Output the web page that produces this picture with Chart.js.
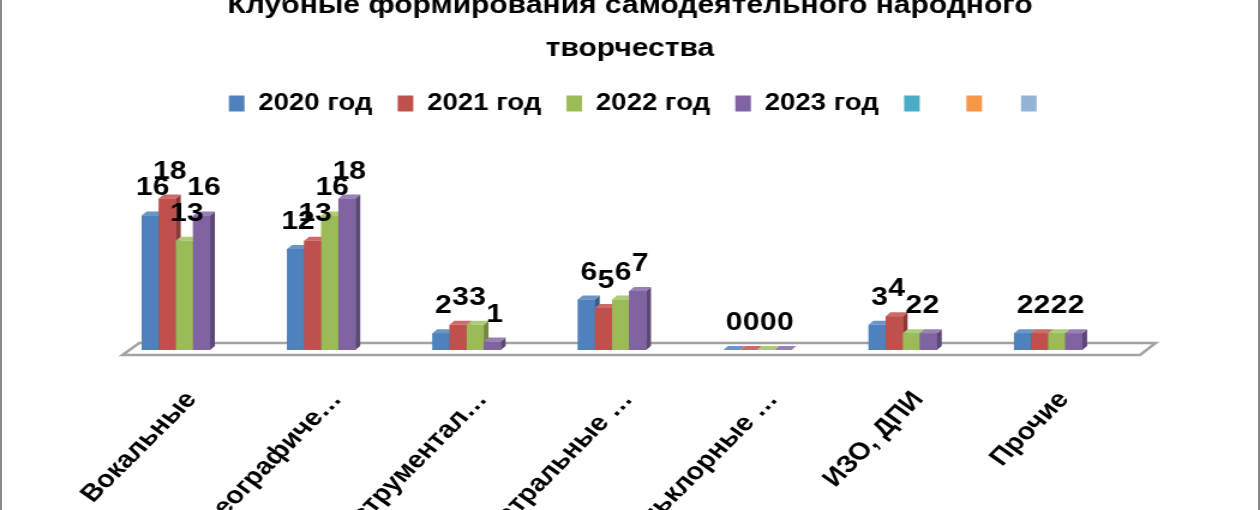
<!DOCTYPE html>
<html>
<head>
<meta charset="utf-8">
<style>
html, body { margin: 0; padding: 0; background: #fff; }
#frame { position: relative; width: 1260px; height: 510px; overflow: hidden; background: #fff; }
/* the reference picture is stretched sideways, so the chart is drawn narrower and widened */
#chart_box { position: absolute; left: 0; top: -20px; width: 1050px; height: 550px; transform: scaleX(1.2); transform-origin: 0 0; }
#edge { position: absolute; left: 0; top: 0; width: 1260px; height: 510px; box-sizing: border-box;
        border-left: 2px solid #8a8a8a; border-right: 2px solid #8a8a8a; pointer-events: none; }
</style>
</head>
<body>
<div id="frame">
  <div id="chart_box"><canvas id="myChart"></canvas></div>
  <div id="edge"></div>
</div>

<script src="https://cdn.jsdelivr.net/npm/chart.js"></script>

<script>
const categories = ['Вокальные', 'Хореографиче…', 'Инструментал…', 'Театральные …', 'Фольклорные …', 'ИЗО, ДПИ', 'Прочие'];
const years = ['2020 год', '2021 год', '2022 год', '2023 год'];
const values2020 = [16, 12, 2, 6, 0, 3, 2];
const values2021 = [18, 13, 3, 5, 0, 4, 2];
const values2022 = [13, 16, 3, 6, 0, 2, 2];
const values2023 = [16, 18, 1, 7, 0, 2, 2];
// three empty series that only show up in the legend
const extraLabels = [' ', '', ''];

const FONT = '"Liberation Sans", Arial, sans-serif';
const colors = ['#4F81BD', '#C0504D', '#9BBB59', '#8064A2'];
const sideColors = ['#385D8A', '#8C3836', '#71893F', '#5C4776'];
const topColors = ['#6A95C8', '#CD6B68', '#AECB77', '#9880B6'];
const extraColors = ['#4BACC6', '#F79646', '#95B3D7'];
const dx = 4, dy = 4;

// fake 3D: floor under the bars, side and top faces, value labels
const bars3d = {
  id: 'bars3d',
  afterLayout(chart) {
    // legend sits a little right of centre in the original
    chart.legend.left += 8;
    chart.legend.right += 8;
  },
  beforeDatasetsDraw(chart) {
    const ctx = chart.ctx;
    const x = chart.scales.x;
    const base = chart.scales.y.getPixelForValue(0);
    ctx.save();
    ctx.strokeStyle = '#a3a3a3';
    ctx.lineWidth = 2.5;
    ctx.beginPath();
    ctx.moveTo(x.left + 16, base + 5);
    ctx.lineTo(x.right + 16, base + 5);
    ctx.lineTo(x.right + 29, base - 7);
    ctx.lineTo(x.left + 30, base - 7);
    ctx.closePath();
    ctx.stroke();
    ctx.restore();
  },
  afterDatasetsDraw(chart) {
    const ctx = chart.ctx;
    const metas = [0, 1, 2, 3].map(i => chart.getDatasetMeta(i));
    ctx.save();
    for (let j = 0; j < categories.length; j++) {
      metas.forEach((meta, i) => {
        const p = meta.data[j].getProps(['x', 'y', 'base', 'width'], true);
        const l = p.x - p.width / 2, r = p.x + p.width / 2;
        ctx.fillStyle = colors[i];
        ctx.fillRect(l, p.y, p.width, p.base - p.y);
        ctx.fillStyle = sideColors[i];
        ctx.beginPath();
        ctx.moveTo(r, p.y); ctx.lineTo(r + dx, p.y - dy);
        ctx.lineTo(r + dx, p.base - dy); ctx.lineTo(r, p.base);
        ctx.closePath(); ctx.fill();
        ctx.fillStyle = topColors[i];
        ctx.beginPath();
        ctx.moveTo(l, p.y); ctx.lineTo(l + dx, p.y - dy);
        ctx.lineTo(r + dx, p.y - dy); ctx.lineTo(r, p.y);
        ctx.closePath(); ctx.fill();
      });
    }
    ctx.fillStyle = '#000';
    ctx.font = 'bold 25px ' + FONT;
    ctx.textAlign = 'center';
    ctx.textBaseline = 'alphabetic';
    metas.forEach((meta, i) => {
      meta.data.forEach((bar, j) => {
        const v = chart.data.datasets[i].data[j];
        ctx.fillText(String(v), bar.x + 2, bar.y - 20);
      });
    });
    ctx.restore();
  }
};

const ctx = document.getElementById('myChart');

const datasets = [values2020, values2021, values2022, values2023].map((d, i) => ({
  label: years[i],
  data: d,
  backgroundColor: colors[i],
  borderWidth: 0
}));
extraColors.forEach((c, i) => datasets.push({
  label: extraLabels[i],
  data: [],
  backgroundColor: c,
  borderWidth: 0,
  grouped: false
}));

let chart = new Chart(ctx, {
  type: 'bar',
  data: { labels: categories, datasets: datasets },
  options: {
    responsive: true,
    maintainAspectRatio: false,
    animation: false,
    categoryPercentage: 0.47,
    barPercentage: 1,
    layout: { padding: { left: 86, right: 86, top: 0, bottom: 0 } },
    plugins: {
      tooltip: { enabled: false },
      title: {
        display: true,
        text: ['Клубные формирования самодеятельного народного', 'творчества'],
        color: '#000',
        font: { family: FONT, size: 25, weight: 'bold', lineHeight: 1.72 },
        padding: { top: 5, bottom: 0 }
      },
      legend: {
        position: 'top',
        labels: {
          color: '#000',
          font: { family: FONT, size: 23, weight: 'bold' },
          boxWidth: 13,
          boxHeight: 16,
          padding: 21
        }
      }
    },
    scales: {
      x: {
        grid: { display: false },
        border: { display: false },
        afterFit(scale) { scale.height = 180; },
        ticks: {
          color: '#000',
          font: { family: FONT, size: 24, weight: 'bold' },
          minRotation: 50,
          maxRotation: 50,
          autoSkip: false,
          padding: 28,
          labelOffset: 13
        }
      },
      y: {
        position: 'right',
        min: 0,
        max: 26.75,
        grid: { display: false },
        border: { display: false },
        ticks: { display: false },
        afterFit(scale) { scale.width = 30; }
      }
    }
  },
  plugins: [bars3d]
});
</script>
</body>
</html>
